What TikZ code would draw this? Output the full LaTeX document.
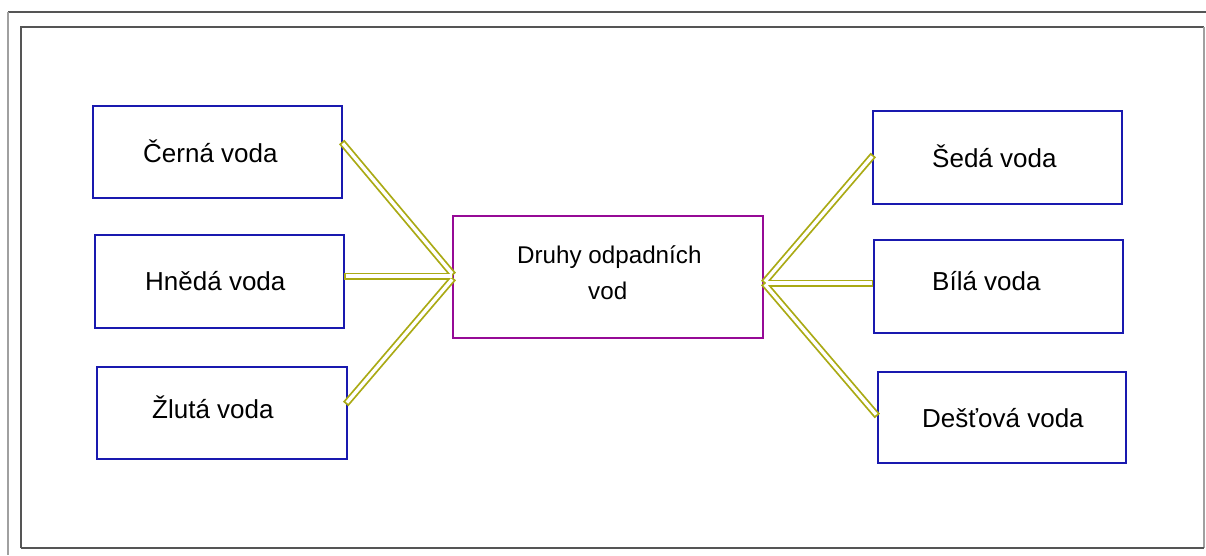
\documentclass[tikz,border=0pt]{standalone}
\usepackage{fontspec}
\setmainfont{Liberation Sans}
\usetikzlibrary{calc}
\definecolor{boxblue}{RGB}{25,25,175}
\definecolor{midmag}{RGB}{150,10,150}
\definecolor{rail}{RGB}{170,170,20}
\definecolor{framedark}{RGB}{85,85,85}
\definecolor{framelight}{RGB}{160,160,160}
\tikzset{
  wbox/.style={draw=boxblue, line width=1.4pt, minimum width=249pt, minimum height=92pt, inner sep=0pt},
  midbox/.style={draw=midmag, line width=1.4pt, minimum width=310pt, minimum height=122pt, inner sep=0pt},
  lbl/.style={anchor=base west, inner sep=0pt, font=\fontsize{26}{30}\selectfont},
  midlbl/.style={anchor=base west, inner sep=0pt, font=\fontsize{24.2}{29}\selectfont},
  railout/.style={draw=rail, line width=7pt, line cap=butt},
  railin/.style={draw=white, line width=3.4pt, line cap=butt, shorten <=1.8pt, shorten >=1.8pt},
}
\begin{document}
\begin{tikzpicture}[x=1pt,y=-1pt]
\useasboundingbox (0,0) rectangle (1206,555);
\fill[white] (0,0) rectangle (1206,555);
% page frame
\draw[framedark, line width=1.4pt] (8,12) -- (1206,12);
\draw[framelight, line width=1.4pt] (8,12) -- (8,555);
\draw[framedark, line width=1.2pt] (21,548) -- (21,27) -- (1204,27);
\draw[framelight, line width=1.4pt] (1204,27) -- (1204,548);
\draw[framedark, line width=1.4pt] (21,548) -- (1204,548);
% boxes
\node[wbox] (cerna) at (217.5,152) {};
\node[wbox, minimum height=93pt] (hneda) at (219.5,281.5) {};
\node[wbox, minimum width=250pt] (zluta) at (222,413) {};
\node[midbox] (mid) at (608,277) {};
\node[wbox, minimum height=93pt] (seda) at (997.5,157.5) {};
\node[wbox, minimum height=93pt] (bila) at (998.5,286.5) {};
\node[wbox, minimum width=248pt, minimum height=91pt] (destova) at (1002,417.5) {};
% labels
\node[lbl] (tcerna) at (143,162) {Černá voda};
\node[lbl] (thneda) at (145,290) {Hnědá voda};
\node[lbl] (tzluta) at (152,418) {Žlutá voda};
\node[lbl] (tseda) at (932,167) {Šedá voda};
\node[lbl] (tbila) at (932,290) {Bílá voda};
\node[lbl] (tdestova) at (922,427) {Dešťová voda};
\node[midlbl] (tmidA) at (517,263) {Druhy odpadních};
\node[midlbl] (tmidB) at (588,299) {vod};
% connector end points
\coordinate (pc) at ($(cerna.east)+(-1,-10)$);
\coordinate (ph) at ($(hneda.east)+(-1,-5.5)$);
\coordinate (pz) at ($(zluta.east)+(-2,-9)$);
\coordinate (mlA) at ($(mid.west)+(1,-2)$);
\coordinate (mlB) at ($(mid.west)+(1,-1)$);
\coordinate (mlC) at ($(mid.west)+(1,1)$);
\coordinate (mr) at ($(mid.east)+(0,6)$);
\coordinate (ps) at ($(seda.west)+(1,-2.5)$);
\coordinate (pb) at ($(bila.west)+(0,-3.5)$);
\coordinate (pd) at ($(destova.west)+(0,-1.5)$);
% connectors
\foreach \a/\b in {pc/mlA, ph/mlB, pz/mlC, mr/ps, mr/pb, mr/pd}{
  \draw[railout] (\a) -- (\b);
}
\foreach \a/\b in {pc/mlA, ph/mlB, pz/mlC, mr/ps, mr/pb, mr/pd}{
  \draw[railin] (\a) -- (\b);
}
\end{tikzpicture}
\end{document}
